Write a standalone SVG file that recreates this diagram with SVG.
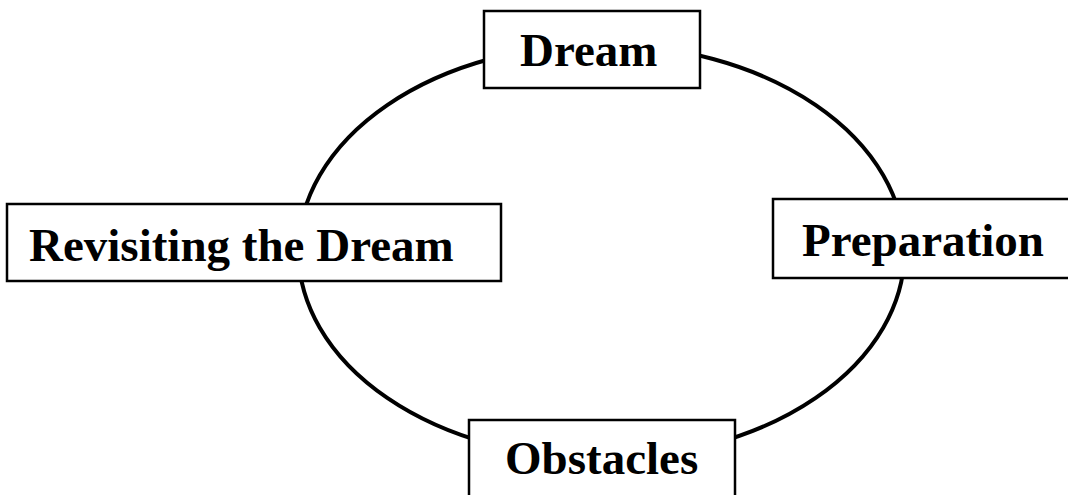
<svg xmlns="http://www.w3.org/2000/svg" width="1068" height="495" viewBox="0 0 1068 495">
  <style>
    .box { fill: #ffffff; stroke: #000000; stroke-width: 2.5; }
    .lbl { font-family: "Liberation Serif", "Times New Roman", serif; font-weight: bold; font-size: 47px; fill: #000000; }
    .cycle { fill: none; stroke: #000000; stroke-width: 4; }
  </style>
  <rect x="0" y="0" width="1068" height="495" fill="#ffffff"/>
  <g id="connectors">
    <ellipse class="cycle" cx="601.5" cy="251.5" rx="303" ry="207"/>
  </g>
  <g id="node-dream">
    <rect class="box" x="484" y="11" width="216" height="77"/>
    <text class="lbl" x="520" y="66">Dream</text>
  </g>
  <g id="node-preparation">
    <rect class="box" x="773" y="199" width="300" height="79"/>
    <text class="lbl" x="802" y="256">Preparation</text>
  </g>
  <g id="node-obstacles">
    <rect class="box" x="469" y="420" width="266" height="90"/>
    <text class="lbl" x="505" y="474">Obstacles</text>
  </g>
  <g id="node-revisiting">
    <rect class="box" x="7" y="204" width="494" height="77"/>
    <text class="lbl" x="29" y="261">Revisiting the Dream</text>
  </g>
</svg>
